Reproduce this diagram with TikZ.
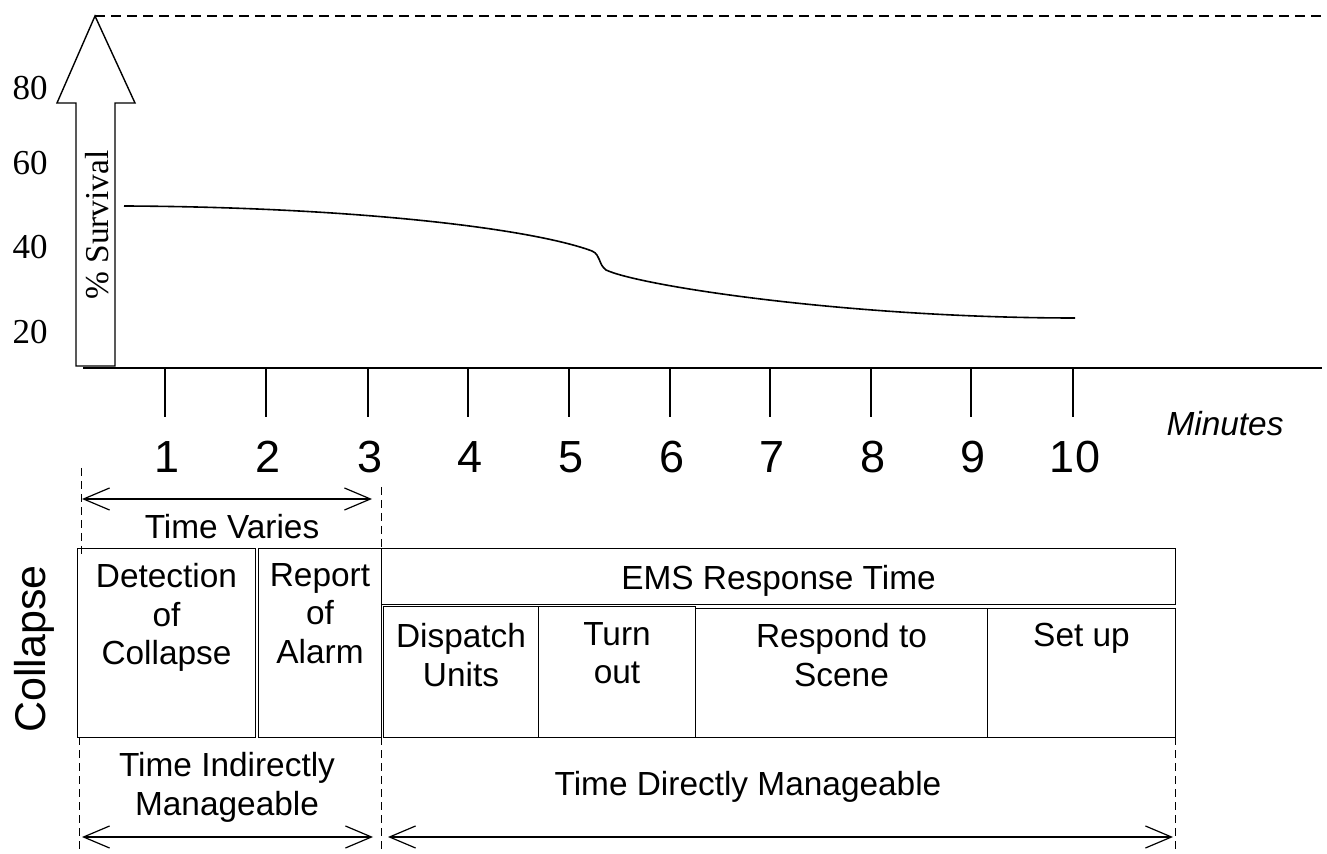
\documentclass[tikz,border=0pt]{standalone}
\usepackage{fontspec}
\setmainfont{Liberation Sans}
\newfontfamily\survfont{Liberation Serif}
\usetikzlibrary{positioning,arrows.meta}

\begin{document}
\begin{tikzpicture}[x=0.5pt,y=-0.5pt,
box/.style={draw,line width=0.5pt,inner sep=0pt,anchor=north west},
lab/.style={font=\fontsize{16.7}{19.2}\selectfont,align=center,inner sep=0pt,anchor=north},
num/.style={font=\fontsize{22.5}{26}\selectfont,inner sep=0pt,anchor=north},
pct/.style={font=\survfont\fontsize{17.5}{20}\selectfont,inner sep=0pt},
guide/.style={dashed,dash pattern=on 4pt off 2.5pt,line width=0.5pt},
span/.style={line width=0.6pt,{Straight Barb[length=13pt,width=11pt]}-{Straight Barb[length=13pt,width=11pt]}}]
\useasboundingbox (0,0) rectangle (1327,854);
% survival axis
\draw[line width=0.7pt] (76,366) -- (76,103) -- (57,103) -- (95,16) coordinate (tip) -- (135,103) -- (115,103) -- (115,366) -- cycle;
\node[pct,font=\survfont\fontsize{16.7}{19}\selectfont,rotate=90] (surv) at (97,225) {\% Survival};
\foreach \y/\v in {88/80,163/60,247/40,332/20}{\node[pct] (y\v) at (30,\y) {\v};}
\coordinate (top) at (1327,16);
\draw[guide,dash pattern=on 5pt off 3pt,line width=0.6pt] (tip) -- (top);
% minutes axis
\coordinate (ax0) at (83,368); \coordinate (ax1) at (1322,368);
\draw[line width=0.8pt] (ax0) -- (ax1);
\foreach \x [count=\i] in {165,266,368,468,569,670,770,871,971,1073}{
  \draw[line width=0.75pt] (\x,368) -- (\x,417);
  \node[num] (m\i) at (\x+2,441) {\i};}
\node[font=\fontsize{16.7}{19.2}\selectfont\itshape,inner sep=0pt] (min) at (1225,424) {Minutes};
\draw[line width=0.8pt] (124,206) .. controls (350,207) and (530,228) .. (592,251) .. controls (601,255) and (598,264) .. (606,270) .. controls (640,286) and (850,318) .. (1075,318);
% time blocks
\node[box,minimum width=89pt,minimum height=94.5pt] (det) at (77,548) {};
\node[box,minimum width=61.5pt,minimum height=94.5pt] (rep) at (258,548) {};
\node[box,minimum width=397pt,minimum height=28pt] (ems) at (381,548) {};
\node[box,minimum width=77.5pt,minimum height=65.5pt] (disp) at (383,606) {};
\node[box,minimum width=78.5pt,minimum height=65.5pt] (turn) at (538,606) {};
\node[box,minimum width=146pt,minimum height=64.5pt] (resp) at (695,608) {};
\node[box,minimum width=94pt,minimum height=64.5pt] (setup) at (987,608) {};
\node[lab,below=7.5pt of det.north] (tdet) {Detection\\of\\Collapse};
\node[lab,below=7.5pt of rep.north] (trep) {Report\\of\\Alarm};
\node[lab,below=8.5pt of ems.north] (tems) {EMS Response Time};
\node[lab,below=8.5pt of disp.north] (tdisp) {Dispatch\\Units};
\node[lab,below=8pt of turn.north] (tturn) {Turn\\out};
\node[lab,below=7.5pt of resp.north] (tresp) {Respond to\\Scene};
\node[lab,below=7.5pt of setup.north] (tsetup) {Set up};
\node[font=\fontsize{21.5}{24}\selectfont,inner sep=0pt,rotate=90] (coll) at (34,649) {Collapse};
% spans
\draw[guide] (81,468) -- (81,558);
\draw[guide] (381,487) -- (381,548);
\draw[guide] (79,737) -- (79,854);
\draw[guide] (381,737) -- (381,854);
\draw[guide] (1175,737) -- (1175,854);
\coordinate (va) at (82,499); \coordinate (vb) at (372,499);
\coordinate (ia) at (82,837); \coordinate (ib) at (373,837);
\coordinate (da) at (388,837); \coordinate (db) at (1173,837);
\draw[span] (va) -- (vb);
\draw[span] (ia) -- (ib);
\draw[span] (da) -- (db);
\node[lab] (tvar) at (232,514) {Time Varies};
\node[lab] (tind) at (227,752) {Time Indirectly\\Manageable};
\node[lab] (tdir) at (748,771) {Time Directly Manageable};
\end{tikzpicture}
\end{document}
